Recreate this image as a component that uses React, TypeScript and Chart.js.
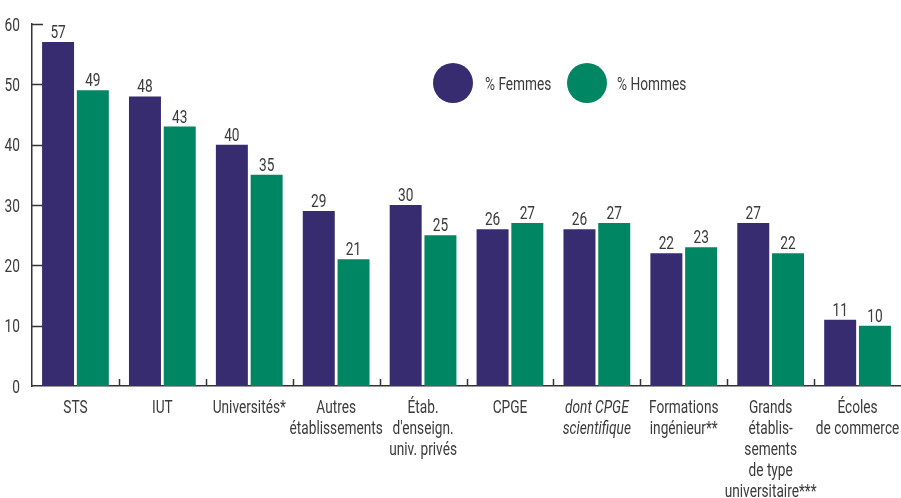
import React, { useEffect, useRef } from "react";
import { Chart, registerables } from "chart.js";

Chart.register(...registerables);

const categories: string[][] = [
  ["STS"],
  ["IUT"],
  ["Universités*"],
  ["Autres", "établissements"],
  ["Étab.", "d'enseign.", "univ. privés"],
  ["CPGE"],
  ["dont CPGE", "scientifique"],
  ["Formations", "ingénieur**"],
  ["Grands", "établis-", "sements", "de type", "universitaire***"],
  ["Écoles", "de commerce"],
];
const italicIndex = 6;
const femmes = [57, 48, 40, 29, 30, 26, 26, 22, 27, 11];
const hommes = [49, 43, 35, 21, 25, 27, 27, 23, 22, 10];
const seriesNames = ["% Femmes", "% Hommes"];
const colors = ["#372C70", "#008662"];
const yMax = 60;
const yStep = 10;

const FONT = "Roboto, 'Noto Sans', sans-serif";
const TEXT = "#3a3a3a";
const SX = 0.76;
const FS = 18;

function drawText(ctx: CanvasRenderingContext2D, text: string, x: number, y: number, align: CanvasTextAlign, italic = false) {
  ctx.save();
  ctx.translate(x, y);
  ctx.scale(SX, 1);
  ctx.font = `${italic ? "italic " : ""}${FS}px ${FONT}`;
  ctx.textAlign = align;
  ctx.textBaseline = "alphabetic";
  ctx.fillText(text, 0, 0);
  ctx.restore();
}

const decorPlugin = {
  id: "decor",
  afterDatasetsDraw(chart: any) {
    const { ctx, chartArea, scales } = chart;
    const y = scales.y;
    const x = scales.x;
    ctx.save();
    ctx.strokeStyle = "#333";
    ctx.lineWidth = 1.5;
    // inward y ticks
    y.ticks.forEach((t: any) => {
      if (t.value === 0) return;
      const py = Math.round(y.getPixelForValue(t.value)) + 0.5;
      ctx.beginPath();
      ctx.moveTo(chartArea.left, py);
      ctx.lineTo(chartArea.left + 11, py);
      ctx.stroke();
    });
    // category boundary ticks
    const n = categories.length;
    const w = (chartArea.right - chartArea.left) / n;
    for (let i = 1; i < n; i++) {
      const px = Math.round(chartArea.left + i * w) + 0.5;
      ctx.beginPath();
      ctx.moveTo(px, chartArea.bottom);
      ctx.lineTo(px, chartArea.bottom - 7);
      ctx.stroke();
    }
    ctx.fillStyle = TEXT;
    // y tick labels
    y.ticks.forEach((t: any) => {
      const py = y.getPixelForValue(t.value);
      drawText(ctx, String(t.value), chartArea.left - 12, py + 6.5, "right");
    });
    // x tick labels
    categories.forEach((lines, i) => {
      const px = x.getPixelForValue(i);
      lines.forEach((line, li) => {
        drawText(ctx, line, px, chartArea.bottom + 27 + li * 21, "center", i === italicIndex);
      });
    });
    // value labels
    chart.data.datasets.forEach((ds: any, di: number) => {
      const meta = chart.getDatasetMeta(di);
      meta.data.forEach((bar: any, i: number) => {
        drawText(ctx, String(ds.data[i]), bar.x, bar.y - 4, "center");
      });
    });
    // legend
    const cy = 83;
    const items = [
      { cx: 453, tx: 485 },
      { cx: 587, tx: 617 },
    ];
    items.forEach((it, i) => {
      ctx.beginPath();
      ctx.fillStyle = colors[i];
      ctx.arc(it.cx, cy, 20, 0, Math.PI * 2);
      ctx.fill();
      ctx.fillStyle = TEXT;
      drawText(ctx, seriesNames[i], it.tx, cy + 6.5, "left");
    });
    ctx.restore();
  },
};

export default function App() {
  const ref = useRef<HTMLCanvasElement>(null);
  useEffect(() => {
    if (!ref.current) return;
    const chart = new Chart(ref.current, {
      type: "bar",
      data: {
        labels: categories.map((c) => c.join(" ")),
        datasets: [
          { label: seriesNames[0], data: femmes, backgroundColor: colors[0] },
          { label: seriesNames[1], data: hommes, backgroundColor: colors[1] },
        ],
      },
      options: {
        animation: false,
        responsive: true,
        maintainAspectRatio: false,
        datasets: { bar: { categoryPercentage: 0.8, barPercentage: 0.92 } },
        layout: { padding: { left: 32, top: 24, right: 0, bottom: 112 } },
        plugins: { legend: { display: false }, tooltip: { enabled: false } },
        scales: {
          x: {
            grid: { display: false, drawTicks: false },
            border: { display: true, color: "#333", width: 1.5 },
            ticks: { display: false },
          },
          y: {
            min: 0,
            max: yMax,
            grid: { display: false, drawTicks: false },
            border: { display: true, color: "#333", width: 1.5 },
            ticks: { display: false, stepSize: yStep },
          },
        },
      },
      plugins: [decorPlugin],
    });
    return () => chart.destroy();
  }, []);
  return (
    <div style={{ position: "fixed", left: 0, top: 0, width: 901, height: 498 }}>
      <canvas ref={ref} />
    </div>
  );
}
